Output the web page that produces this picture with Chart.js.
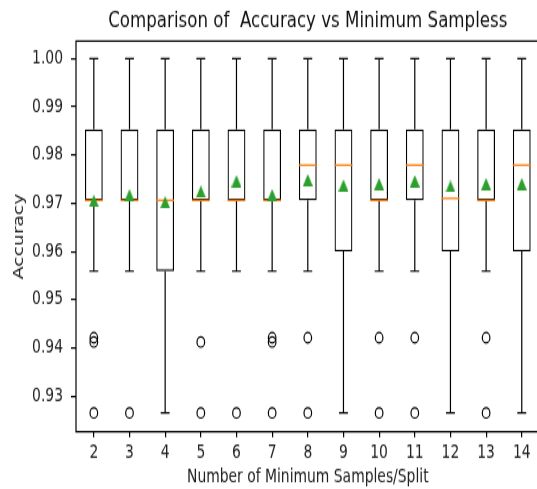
<!DOCTYPE html>
<html>
<head>
<meta charset="utf-8">
<script src="https://cdn.jsdelivr.net/npm/chart.js@4"></script>
<style>
  html { overflow: hidden; background: #fff; }
  body { margin: 0; padding: 0; width: 537px; height: 489px; background: #fff; }
  /* the reference picture is stretched vertically, so is ours */
  #chart { display: block; transform: scaleY(1.3508); transform-origin: 0 0; }
</style>
</head>
<body>
<canvas id="chart" width="560" height="362"></canvas>
<script>
const labels = ['2', '3', '4', '5', '6', '7', '8', '9', '10', '11', '12', '13', '14'];

// box plot statistics per min samples split
const whiskerLow  = [0.9559, 0.9559, 0.9265, 0.9559, 0.9559, 0.9559, 0.9559, 0.9265, 0.9559, 0.9559, 0.9265, 0.9559, 0.9265];
const q1          = [0.9706, 0.9706, 0.9559, 0.9706, 0.9706, 0.9706, 0.9706, 0.9600, 0.9706, 0.9706, 0.9600, 0.9706, 0.9600];
const medians     = [0.9706, 0.9706, 0.9706, 0.9706, 0.9706, 0.9706, 0.9779, 0.9779, 0.9706, 0.9779, 0.9710, 0.9706, 0.9779];
const q3          = [0.9853, 0.9853, 0.9853, 0.9853, 0.9853, 0.9853, 0.9853, 0.9853, 0.9853, 0.9853, 0.9853, 0.9853, 0.9853];
const whiskerHigh = [1.0, 1.0, 1.0, 1.0, 1.0, 1.0, 1.0, 1.0, 1.0, 1.0, 1.0, 1.0, 1.0];
const means       = [0.9705, 0.9717, 0.9702, 0.9724, 0.9746, 0.9717, 0.9748, 0.9737, 0.9740, 0.9746, 0.9735, 0.9740, 0.9740];
const outliers = [
  [0.9412, 0.9421, 0.9265],
  [0.9265],
  [],
  [0.9412, 0.9265],
  [0.9265],
  [0.9412, 0.9421, 0.9265],
  [0.9421, 0.9265],
  [],
  [0.9421, 0.9265],
  [0.9421, 0.9265],
  [],
  [0.9421, 0.9265],
  []
];
const yTicks = [0.93, 0.94, 0.95, 0.96, 0.97, 0.98, 0.99, 1.00];

const FONT = 'DejaVu Sans';

// triangle marker centred on the value, like matplotlib's '^'
const tri = document.createElement('canvas');
tri.width = 10;
tri.height = 9;
const tctx = tri.getContext('2d');
tctx.fillStyle = '#2ca02c';
tctx.beginPath();
tctx.moveTo(5, 0);
tctx.lineTo(10, 9);
tctx.lineTo(0, 9);
tctx.closePath();
tctx.fill();

const outlierPoints = [];
outliers.forEach((vals, i) => vals.forEach(v => outlierPoints.push({ x: labels[i], y: v })));

// whiskers, caps and medians, drawn right after the boxes
const boxParts = {
  id: 'boxParts',
  afterLayout(chart) {
    // centre the title over the plot area, as matplotlib does
    if (chart.titleBlock) {
      chart.titleBlock.left = chart.chartArea.left;
      chart.titleBlock.right = chart.chartArea.right;
    }
  },
  afterDatasetDraw(chart, args) {
    if (args.index !== 0) return;
    const ctx = chart.ctx;
    const x = chart.scales.x, y = chart.scales.y;
    const band = x.getPixelForValue(1) - x.getPixelForValue(0);
    ctx.save();
    ctx.strokeStyle = '#000';
    ctx.lineWidth = 1.2;
    labels.forEach((l, i) => {
      const cx = x.getPixelForValue(i);
      const cap = band * 0.125;
      ctx.beginPath();
      ctx.moveTo(cx, y.getPixelForValue(q3[i]));
      ctx.lineTo(cx, y.getPixelForValue(whiskerHigh[i]));
      ctx.moveTo(cx, y.getPixelForValue(q1[i]));
      ctx.lineTo(cx, y.getPixelForValue(whiskerLow[i]));
      ctx.moveTo(cx - cap, y.getPixelForValue(whiskerHigh[i]));
      ctx.lineTo(cx + cap, y.getPixelForValue(whiskerHigh[i]));
      ctx.moveTo(cx - cap, y.getPixelForValue(whiskerLow[i]));
      ctx.lineTo(cx + cap, y.getPixelForValue(whiskerLow[i]));
      ctx.stroke();
    });
    ctx.strokeStyle = '#ff7f0e';
    ctx.lineWidth = 1.3;
    labels.forEach((l, i) => {
      const cx = x.getPixelForValue(i);
      const my = y.getPixelForValue(medians[i]);
      ctx.beginPath();
      ctx.moveTo(cx - band * 0.25, my);
      ctx.lineTo(cx + band * 0.25, my);
      ctx.stroke();
    });
    ctx.restore();
  },
  afterDraw(chart) {
    const a = chart.chartArea;
    const ctx = chart.ctx;
    ctx.save();
    ctx.strokeStyle = '#000';
    ctx.lineWidth = 1.2;
    ctx.strokeRect(a.left, a.top, a.right - a.left, a.bottom - a.top);
    ctx.restore();
  }
};

new Chart(document.getElementById('chart'), {
  type: 'bar',
  data: {
    labels: labels,
    datasets: [
      {
        label: 'box',
        data: q1.map((v, i) => [v, q3[i]]),
        backgroundColor: 'rgba(0,0,0,0)',
        borderColor: '#000',
        borderWidth: 1.2,
        borderSkipped: false,
        barPercentage: 0.5,
        categoryPercentage: 1.0,
        grouped: false,
        order: 3
      },
      {
        type: 'scatter',
        label: 'outliers',
        data: outlierPoints,
        pointStyle: 'circle',
        pointRadius: 3.8,
        backgroundColor: 'rgba(0,0,0,0)',
        borderColor: '#000',
        borderWidth: 1.2,
        order: 2
      },
      {
        type: 'scatter',
        label: 'mean',
        data: means.map((v, i) => ({ x: labels[i], y: v })),
        pointStyle: tri,
        pointRadius: 5,
        order: 1
      }
    ]
  },
  options: {
    responsive: false,
    animation: false,
    devicePixelRatio: 1,
    layout: { padding: { left: 0, right: 20.4, top: 0, bottom: 0 } },
    plugins: {
      legend: { display: false },
      tooltip: { enabled: false },
      title: {
        display: true,
        text: 'Comparison of  Accuracy vs Minimum Sampless',
        color: '#111',
        font: { family: FONT, size: 16.67, weight: 'normal' },
        padding: { top: 5.9, bottom: 4.5 }
      }
    },
    scales: {
      x: {
        type: 'category',
        offset: true,
        border: { display: false },
        grid: { display: true, offset: false, drawOnChartArea: false, drawTicks: true, tickLength: 4.1, color: '#000', lineWidth: 1.2 },
        ticks: { color: '#222', padding: 3, maxRotation: 0, font: { family: FONT, size: 13.9 } },
        title: { display: true, text: 'Number of Minimum Samples/Split', color: '#222', padding: { top: 0, bottom: 0 }, font: { family: FONT, size: 13.9 } },
        afterFit(scale) { scale.height = 42.4; }
      },
      y: {
        type: 'linear',
        min: 0.9226,
        max: 1.00363,
        border: { display: false },
        grid: { display: true, drawOnChartArea: false, drawTicks: true, tickLength: 5, color: '#000', lineWidth: 1.2 },
        ticks: { color: '#222', padding: 8, font: { family: FONT, size: 13.9 }, callback: v => v.toFixed(2) },
        afterBuildTicks(scale) { scale.ticks = yTicks.map(v => ({ value: v })); },
        title: { display: true, text: 'Accuracy', color: '#222', padding: { top: 10.7, bottom: 0 }, font: { family: FONT, size: 13.9 } },
        afterFit(scale) { scale.width = 76; }
      }
    }
  },
  plugins: [boxParts]
});
</script>
</body>
</html>
